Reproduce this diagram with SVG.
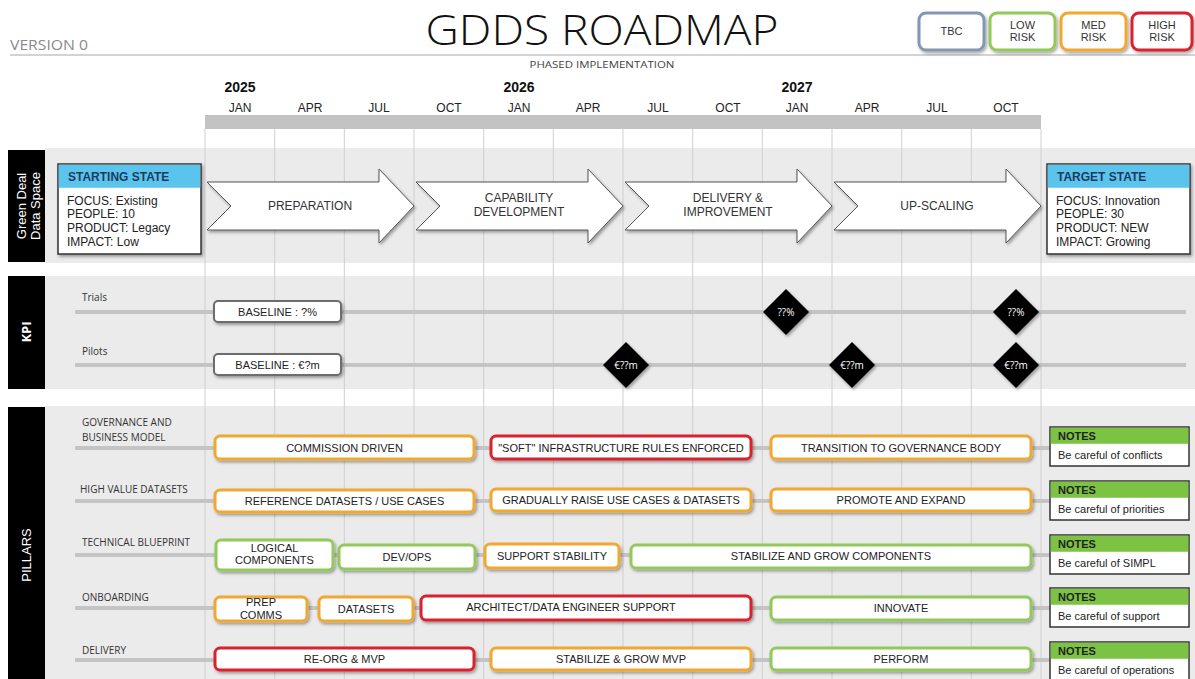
<svg xmlns="http://www.w3.org/2000/svg" width="1195" height="679" viewBox="0 0 1195 679">
<defs>
  <filter id="sh" x="-10%" y="-30%" width="130%" height="170%">
    <feDropShadow dx="1.5" dy="2" stdDeviation="1.5" flood-color="#000" flood-opacity="0.35"/>
  </filter>
  <style>
    .a{font-family:"Liberation Sans",Arial,sans-serif}
    .o{font-family:"Open Sans","DejaVu Sans",sans-serif}
    .band{fill:#ebebeb}
    .blk{fill:#000}
    .grid{stroke:#cfcfcf;stroke-width:1}
    .rl{stroke:#c4c4c4;stroke-width:4}
    .mon{font-size:12px;fill:#222;text-anchor:middle}
    .yr{font-size:14px;font-weight:bold;fill:#111;text-anchor:middle}
    .bx{fill:#fff;stroke-width:3}
    .org{stroke:#f0a830}
    .red{stroke:#d9232d}
    .grn{stroke:#92c95a}
    .tbc{stroke:#8497b0}
    .bt{font-size:11px;fill:#222;text-anchor:middle}
    .lg{font-size:11px;fill:#333;text-anchor:middle}
    .pl{font-size:10px;fill:#333}
    .arr{fill:#fff;stroke:#555;stroke-width:1}
    .at{font-size:12px;fill:#333;text-anchor:middle}
    .dia{fill:#000}
    .dt{font-size:10px;fill:#fff;text-anchor:middle}
    .nb{fill:#fff;stroke:#333;stroke-width:1.5}
    .nh{fill:#7cc243}
    .nht{font-size:11px;font-weight:bold;fill:#222}
    .nt{font-size:11px;fill:#222}
    .st{fill:#fff;stroke:#333;stroke-width:1.5}
    .sth{fill:#5bc4ec}
    .stt{font-size:12px;font-weight:bold;fill:#1f3a5f}
    .sb{font-size:12px;fill:#222}
    .lab{font-size:13px;fill:#fff;text-anchor:middle}
  </style>
</defs>

<!-- header -->
<g id="header">
  <text x="10" y="50" class="o" font-size="15" fill="#8a8a8a" textLength="78" lengthAdjust="spacingAndGlyphs">VERSION 0</text>
  <line x1="10" y1="55" x2="1195" y2="55" stroke="#d3d3d3" stroke-width="2"/>
  <text x="602" y="45" class="o" font-size="42" font-weight="300" fill="#111" text-anchor="middle" textLength="353" lengthAdjust="spacingAndGlyphs">GDDS ROADMAP</text>
  <text x="602" y="68" class="o" font-size="9" fill="#444" text-anchor="middle" textLength="145" lengthAdjust="spacingAndGlyphs">PHASED IMPLEMENTATION</text>
</g>

<g id="legend">
  <rect x="919" y="13" width="65" height="37" rx="7" class="bx tbc" filter="url(#sh)"/>
  <text x="951.5" y="35" class="a lg">TBC</text>
  <rect x="990" y="13" width="65" height="37" rx="7" class="bx grn" filter="url(#sh)"/>
  <text x="1022.5" y="29" class="a lg">LOW</text>
  <text x="1022.5" y="41" class="a lg">RISK</text>
  <rect x="1061" y="13" width="65" height="37" rx="7" class="bx org" filter="url(#sh)"/>
  <text x="1093.5" y="29" class="a lg">MED</text>
  <text x="1093.5" y="41" class="a lg">RISK</text>
  <rect x="1132" y="13" width="60" height="37" rx="7" class="bx red" filter="url(#sh)"/>
  <text x="1162" y="29" class="a lg">HIGH</text>
  <text x="1162" y="41" class="a lg">RISK</text>
</g>

<!-- timeline -->
<g id="timeline" class="a">
  <text x="240" y="92" class="yr">2025</text>
  <text x="519" y="92" class="yr">2026</text>
  <text x="797" y="92" class="yr">2027</text>
  <text x="240" y="112" class="mon">JAN</text>
  <text x="310" y="112" class="mon">APR</text>
  <text x="379" y="112" class="mon">JUL</text>
  <text x="449" y="112" class="mon">OCT</text>
  <text x="519" y="112" class="mon">JAN</text>
  <text x="588" y="112" class="mon">APR</text>
  <text x="658" y="112" class="mon">JUL</text>
  <text x="728" y="112" class="mon">OCT</text>
  <text x="797" y="112" class="mon">JAN</text>
  <text x="867" y="112" class="mon">APR</text>
  <text x="937" y="112" class="mon">JUL</text>
  <text x="1006" y="112" class="mon">OCT</text>
  <rect x="205" y="115" width="836" height="14" fill="#c3c3c3"/>
</g>

<!-- section bands -->
<g id="bands">
  <rect x="45" y="148" width="1150" height="115" class="band"/>
  <rect x="45" y="276" width="1150" height="113" class="band"/>
  <rect x="45" y="406" width="1150" height="273" class="band"/>
</g>

<g id="grid">
  <line x1="205" y1="129" x2="205" y2="679" class="grid"/>
  <line x1="274.7" y1="129" x2="274.7" y2="679" class="grid"/>
  <line x1="344.3" y1="129" x2="344.3" y2="679" class="grid"/>
  <line x1="414" y1="129" x2="414" y2="679" class="grid"/>
  <line x1="483.7" y1="129" x2="483.7" y2="679" class="grid"/>
  <line x1="553.3" y1="129" x2="553.3" y2="679" class="grid"/>
  <line x1="623" y1="129" x2="623" y2="679" class="grid"/>
  <line x1="692.7" y1="129" x2="692.7" y2="679" class="grid"/>
  <line x1="762.3" y1="129" x2="762.3" y2="679" class="grid"/>
  <line x1="832" y1="129" x2="832" y2="679" class="grid"/>
  <line x1="901.7" y1="129" x2="901.7" y2="679" class="grid"/>
  <line x1="971.3" y1="129" x2="971.3" y2="679" class="grid"/>
  <line x1="1041" y1="129" x2="1041" y2="679" class="grid"/>
</g>

<!-- section labels -->
<g id="label-gdds">
  <rect x="8" y="150" width="37" height="112" class="blk"/>
  <text transform="translate(26,206) rotate(-90)" class="a lab" font-size="14"><tspan x="0" y="0">Green Deal</tspan><tspan x="0" y="14">Data Space</tspan></text>
</g>
<g id="label-kpi">
  <rect x="8" y="276" width="37" height="113" class="blk"/>
  <text transform="translate(31,332) rotate(-90)" class="o lab" font-weight="bold">KPI</text>
</g>
<g id="label-pillars">
  <rect x="8" y="407" width="37" height="272" class="blk"/>
  <text transform="translate(31,555) rotate(-90)" class="a lab">PILLARS</text>
</g>

<!-- connectors / row lines -->
<g id="connectors">
  <line x1="75" y1="312" x2="1186" y2="312" class="rl"/>
  <line x1="75" y1="365" x2="1186" y2="365" class="rl"/>
  <line x1="75" y1="448" x2="1050" y2="448" class="rl"/>
  <line x1="75" y1="501" x2="1050" y2="501" class="rl"/>
  <line x1="75" y1="555" x2="1050" y2="555" class="rl"/>
  <line x1="75" y1="608" x2="1050" y2="608" class="rl"/>
  <line x1="75" y1="660" x2="1050" y2="660" class="rl"/>
</g>

<!-- Section 1 -->
<g id="starting-state" class="a">
  <rect x="58" y="164" width="143" height="90" class="st" filter="url(#sh)"/>
  <rect x="58.75" y="164.75" width="141.5" height="23" class="sth"/>
  <text x="68" y="181" class="stt">STARTING STATE</text>
  <text x="67" y="205" class="sb">FOCUS: Existing</text>
  <text x="67" y="218" class="sb">PEOPLE: 10</text>
  <text x="67" y="232" class="sb">PRODUCT: Legacy</text>
  <text x="67" y="246" class="sb">IMPACT: Low</text>
</g>
<g id="phase-preparation" class="a">
  <path d="M207,182 H379 V169 L414,206 L379,243 V230 H207 L231,206 Z" class="arr" filter="url(#sh)"/>
  <text x="310" y="210" class="at">PREPARATION</text>
</g>
<g id="phase-capability" class="a">
  <path d="M416,182 H588 V169 L623,206 L588,243 V230 H416 L440,206 Z" class="arr" filter="url(#sh)"/>
  <text x="519" y="202" class="at">CAPABILITY</text>
  <text x="519" y="216" class="at">DEVELOPMENT</text>
</g>
<g id="phase-delivery" class="a">
  <path d="M625,182 H797 V169 L832,206 L797,243 V230 H625 L649,206 Z" class="arr" filter="url(#sh)"/>
  <text x="728" y="202" class="at">DELIVERY &amp;</text>
  <text x="728" y="216" class="at">IMPROVEMENT</text>
</g>
<g id="phase-upscaling" class="a">
  <path d="M834,182 H1006 V169 L1041,206 L1006,243 V230 H834 L858,206 Z" class="arr" filter="url(#sh)"/>
  <text x="937" y="210" class="at">UP-SCALING</text>
</g>
<g id="target-state" class="a">
  <rect x="1047" y="164" width="143" height="90" class="st" filter="url(#sh)"/>
  <rect x="1047.75" y="164.75" width="141.5" height="23" class="sth"/>
  <text x="1057" y="181" class="stt">TARGET STATE</text>
  <text x="1056" y="205" class="sb">FOCUS: Innovation</text>
  <text x="1056" y="218" class="sb">PEOPLE: 30</text>
  <text x="1056" y="232" class="sb">PRODUCT: NEW</text>
  <text x="1056" y="246" class="sb">IMPACT: Growing</text>
</g>

<!-- KPI -->
<g id="kpi-trials">
  <text x="82" y="301" class="o pl">Trials</text>
  <rect x="214" y="301" width="127" height="21" rx="4" fill="#fff" stroke="#6d6d6d" stroke-width="2" filter="url(#sh)"/>
  <text x="277.5" y="315.5" class="a bt">BASELINE : ?%</text>
  <path d="M786,289 L809,312 L786,335 L763,312 Z" class="dia" filter="url(#sh)"/>
  <text x="786" y="315.5" class="o dt">??%</text>
  <path d="M1016,289 L1039,312 L1016,335 L993,312 Z" class="dia" filter="url(#sh)"/>
  <text x="1016" y="315.5" class="o dt">??%</text>
</g>
<g id="kpi-pilots">
  <text x="82" y="355" class="o pl">Pilots</text>
  <rect x="214" y="354" width="127" height="21" rx="4" fill="#fff" stroke="#6d6d6d" stroke-width="2" filter="url(#sh)"/>
  <text x="277.5" y="368.5" class="a bt">BASELINE : €?m</text>
  <path d="M626,342 L649,365 L626,388 L603,365 Z" class="dia" filter="url(#sh)"/>
  <text x="626" y="368.5" class="o dt">€??m</text>
  <path d="M852,342 L875,365 L852,388 L829,365 Z" class="dia" filter="url(#sh)"/>
  <text x="852" y="368.5" class="o dt">€??m</text>
  <path d="M1016,342 L1039,365 L1016,388 L993,365 Z" class="dia" filter="url(#sh)"/>
  <text x="1016" y="368.5" class="o dt">€??m</text>
</g>

<!-- Pillars -->
<g id="pillar-governance">
  <text x="82" y="426" class="o pl">GOVERNANCE AND</text>
  <text x="82" y="441" class="o pl">BUSINESS MODEL</text>
  <rect x="215" y="436" width="259" height="23" rx="5" class="bx org" filter="url(#sh)"/>
  <text x="344.5" y="451.5" class="a bt">COMMISSION DRIVEN</text>
  <rect x="491" y="436" width="260" height="23" rx="5" class="bx red" filter="url(#sh)"/>
  <text x="621" y="451.5" class="a bt">"SOFT" INFRASTRUCTURE RULES ENFORCED</text>
  <rect x="771" y="436" width="260" height="23" rx="5" class="bx org" filter="url(#sh)"/>
  <text x="901" y="451.5" class="a bt">TRANSITION TO GOVERNANCE BODY</text>
</g>
<g id="pillar-datasets">
  <text x="80" y="493" class="o pl">HIGH VALUE DATASETS</text>
  <rect x="215" y="490" width="259" height="22" rx="5" class="bx org" filter="url(#sh)"/>
  <text x="344.5" y="505" class="a bt">REFERENCE DATASETS / USE CASES</text>
  <rect x="491" y="489" width="260" height="22" rx="5" class="bx org" filter="url(#sh)"/>
  <text x="621" y="504" class="a bt">GRADUALLY RAISE USE CASES &amp; DATASETS</text>
  <rect x="771" y="489" width="260" height="22" rx="5" class="bx org" filter="url(#sh)"/>
  <text x="901" y="504" class="a bt">PROMOTE AND EXPAND</text>
</g>
<g id="pillar-technical">
  <text x="82" y="546" class="o pl">TECHNICAL BLUEPRINT</text>
  <rect x="216" y="540" width="117" height="30" rx="5" class="bx grn" filter="url(#sh)"/>
  <text x="274.5" y="552" class="a bt">LOGICAL</text>
  <text x="274.5" y="564" class="a bt">COMPONENTS</text>
  <rect x="339" y="545" width="136" height="24" rx="5" class="bx grn" filter="url(#sh)"/>
  <text x="407" y="561" class="a bt">DEV/OPS</text>
  <rect x="485" y="544" width="134" height="24" rx="5" class="bx org" filter="url(#sh)"/>
  <text x="552" y="560" class="a bt">SUPPORT STABILITY</text>
  <rect x="631" y="545" width="400" height="23" rx="5" class="bx grn" filter="url(#sh)"/>
  <text x="831" y="560" class="a bt">STABILIZE AND GROW COMPONENTS</text>
</g>
<g id="pillar-onboarding">
  <text x="82" y="601" class="o pl">ONBOARDING</text>
  <rect x="215" y="597" width="92" height="24" rx="5" class="bx org" filter="url(#sh)"/>
  <text x="261" y="606" class="a bt">PREP</text>
  <text x="261" y="619" class="a bt">COMMS</text>
  <rect x="319" y="597" width="94" height="24" rx="5" class="bx org" filter="url(#sh)"/>
  <text x="366" y="612.5" class="a bt">DATASETS</text>
  <rect x="421" y="596" width="330" height="24" rx="5" class="bx red" filter="url(#sh)"/>
  <text x="571" y="611" class="a bt">ARCHITECT/DATA ENGINEER SUPPORT</text>
  <rect x="771" y="597" width="260" height="23" rx="5" class="bx grn" filter="url(#sh)"/>
  <text x="901" y="612" class="a bt">INNOVATE</text>
</g>
<g id="pillar-delivery">
  <text x="82" y="654" class="o pl">DELIVERY</text>
  <rect x="215" y="648" width="259" height="22" rx="5" class="bx red" filter="url(#sh)"/>
  <text x="344.5" y="663" class="a bt">RE-ORG &amp; MVP</text>
  <rect x="491" y="648" width="260" height="22" rx="5" class="bx org" filter="url(#sh)"/>
  <text x="621" y="663" class="a bt">STABILIZE &amp; GROW MVP</text>
  <rect x="771" y="648" width="260" height="22" rx="5" class="bx grn" filter="url(#sh)"/>
  <text x="901" y="663" class="a bt">PERFORM</text>
</g>

<!-- Notes -->
<g id="notes-1" class="a">
  <rect x="1050" y="427" width="139" height="39" class="nb"/>
  <rect x="1050.75" y="427.75" width="137.5" height="16" class="nh"/>
  <text x="1058" y="439.5" class="nht">NOTES</text>
  <text x="1058" y="459" class="nt">Be careful of conflicts</text>
</g>
<g id="notes-2" class="a">
  <rect x="1050" y="481" width="139" height="39" class="nb"/>
  <rect x="1050.75" y="481.75" width="137.5" height="16" class="nh"/>
  <text x="1058" y="493.5" class="nht">NOTES</text>
  <text x="1058" y="513" class="nt">Be careful of priorities</text>
</g>
<g id="notes-3" class="a">
  <rect x="1050" y="535" width="139" height="39" class="nb"/>
  <rect x="1050.75" y="535.75" width="137.5" height="16" class="nh"/>
  <text x="1058" y="547.5" class="nht">NOTES</text>
  <text x="1058" y="567" class="nt">Be careful of SIMPL</text>
</g>
<g id="notes-4" class="a">
  <rect x="1050" y="588" width="139" height="39" class="nb"/>
  <rect x="1050.75" y="588.75" width="137.5" height="16" class="nh"/>
  <text x="1058" y="600.5" class="nht">NOTES</text>
  <text x="1058" y="620" class="nt">Be careful of support</text>
</g>
<g id="notes-5" class="a">
  <rect x="1050" y="642" width="139" height="39" class="nb"/>
  <rect x="1050.75" y="642.75" width="137.5" height="16" class="nh"/>
  <text x="1058" y="654.5" class="nht">NOTES</text>
  <text x="1058" y="674" class="nt">Be careful of operations</text>
</g>
</svg>
